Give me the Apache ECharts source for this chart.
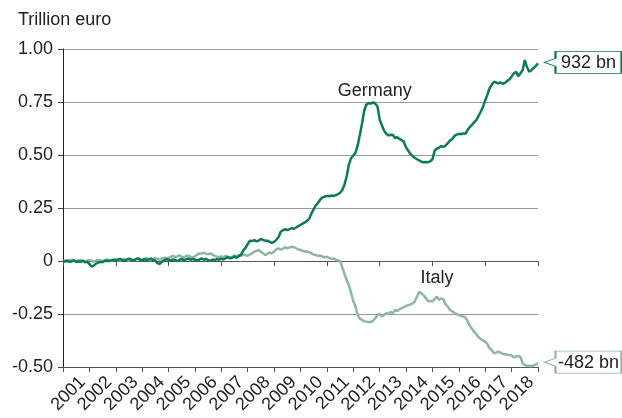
<!DOCTYPE html>
<html>
<head>
<meta charset="utf-8">
<script src="https://cdn.jsdelivr.net/npm/echarts@6/dist/echarts.min.js"></script>
<style>html,body{margin:0;padding:0;background:#fff}#c{width:622px;height:418px}</style>
</head>
<body>
<div id="c"></div>
<script>
// Tick labels / categories
const years = ['2001','2002','2003','2004','2005','2006','2007','2008','2009','2010','2011','2012','2013','2014','2015','2016','2017','2018'];
const startYear = 2001;   // monthly values from Jan 2001 to Jan 2019
const yTicks = [-0.5, -0.25, 0, 0.25, 0.5, 0.75, 1];

// TARGET2 balances, trillion euro (monthly)
const germany = [
  0.000,-0.003,0.002,-0.004,-0.002,0.003,-0.005,-0.002,-0.004,0.001,-0.006,-0.003,
  -0.015,-0.026,-0.022,-0.012,-0.008,-0.004,-0.006,0.000,0.003,-0.001,0.004,0.006,
  0.002,0.007,0.010,0.004,0.001,0.006,0.011,0.006,0.002,0.008,0.012,0.006,
  0.003,0.009,0.004,0.008,0.012,0.005,0.001,-0.010,-0.014,-0.004,0.004,0.008,
  0.006,0.002,0.008,0.004,0.000,0.006,0.010,0.004,0.008,0.012,0.006,0.010,
  0.006,0.002,0.007,0.012,0.006,0.010,0.004,0.001,0.007,0.004,0.009,0.006,
  0.011,0.007,0.013,0.018,0.012,0.016,0.021,0.015,0.024,0.030,0.050,0.062,
  0.080,0.096,0.094,0.098,0.093,0.096,0.104,0.100,0.095,0.096,0.090,0.086,
  0.090,0.100,0.112,0.138,0.145,0.150,0.146,0.150,0.155,0.152,0.158,0.165,
  0.170,0.176,0.182,0.190,0.200,0.225,0.245,0.262,0.275,0.290,0.300,0.304,
  0.307,0.305,0.309,0.307,0.310,0.315,0.322,0.335,0.360,0.400,0.455,0.485,
  0.498,0.510,0.545,0.595,0.650,0.710,0.738,0.745,0.742,0.748,0.742,0.730,
  0.668,0.640,0.615,0.600,0.592,0.596,0.594,0.580,0.584,0.576,0.570,0.562,
  0.535,0.520,0.505,0.496,0.486,0.480,0.474,0.468,0.466,0.467,0.466,0.470,
  0.480,0.520,0.530,0.534,0.542,0.538,0.545,0.556,0.568,0.575,0.590,0.596,
  0.600,0.598,0.602,0.600,0.618,0.632,0.642,0.655,0.665,0.685,0.705,0.728,
  0.758,0.785,0.815,0.832,0.846,0.842,0.838,0.842,0.836,0.840,0.850,0.856,
  0.870,0.885,0.893,0.872,0.885,0.900,0.948,0.915,0.893,0.900,0.910,0.920,
  0.932
];
const italy = [
  0.000,0.003,-0.002,0.004,0.006,0.002,-0.001,0.003,0.005,0.001,-0.002,0.002,
  0.004,0.001,-0.003,0.002,0.005,0.003,0.000,0.004,0.007,0.003,0.001,0.005,
  0.008,0.004,0.002,0.006,0.009,0.005,0.002,0.007,0.004,0.008,0.011,0.007,
  0.005,0.010,0.013,0.008,0.004,0.009,0.014,0.010,0.006,0.012,0.016,0.012,
  0.015,0.020,0.024,0.018,0.022,0.027,0.021,0.017,0.023,0.026,0.020,0.015,
  0.022,0.030,0.036,0.034,0.040,0.035,0.032,0.036,0.030,0.024,0.020,0.018,
  0.022,0.018,0.024,0.020,0.016,0.021,0.026,0.022,0.028,0.024,0.030,0.027,
  0.025,0.030,0.036,0.044,0.048,0.052,0.044,0.036,0.028,0.034,0.040,0.036,
  0.045,0.055,0.060,0.054,0.058,0.065,0.060,0.064,0.067,0.066,0.060,0.055,
  0.052,0.048,0.044,0.046,0.040,0.036,0.030,0.028,0.024,0.026,0.020,0.018,
  0.020,0.014,0.010,0.012,0.006,0.004,-0.002,-0.030,-0.060,-0.090,-0.115,-0.150,
  -0.190,-0.215,-0.255,-0.272,-0.278,-0.284,-0.286,-0.288,-0.288,-0.282,-0.270,-0.255,
  -0.250,-0.262,-0.255,-0.246,-0.250,-0.240,-0.246,-0.231,-0.236,-0.228,-0.222,-0.218,
  -0.212,-0.208,-0.205,-0.200,-0.190,-0.168,-0.145,-0.152,-0.162,-0.175,-0.190,-0.188,
  -0.190,-0.180,-0.168,-0.184,-0.176,-0.180,-0.205,-0.215,-0.231,-0.238,-0.244,-0.250,
  -0.255,-0.258,-0.262,-0.266,-0.285,-0.305,-0.320,-0.335,-0.345,-0.360,-0.368,-0.375,
  -0.380,-0.392,-0.412,-0.420,-0.436,-0.432,-0.428,-0.432,-0.438,-0.440,-0.442,-0.443,
  -0.445,-0.455,-0.450,-0.448,-0.452,-0.483,-0.490,-0.495,-0.494,-0.496,-0.492,-0.488,
  -0.482
];
// Series name annotations: [year, value]
const germanyLabelAt = [2012.81, 0.80];
const italyLabelAt = [2015.17, -0.08];

const GREEN = '#0b7a5b';
const SAGE = '#8db6a4';
const FONT = 'Liberation Sans, Arial, Helvetica, sans-serif';
const FS = 18;

const toPairs = arr => arr.map((v, i) => [startYear + i / 12, v]);
const last = arr => [startYear + (arr.length - 1) / 12, arr[arr.length - 1]];
const calloutPath = 'path://M0,11 L11,7 L11,0 L77,0 L77,22 L11,22 L11,15 Z';

function endCallout(arr, color) {
  return {
    coord: last(arr),
    symbol: calloutPath,
    symbolSize: [77, 22],
    symbolOffset: [45, -1],
    itemStyle: { color: '#fff', borderColor: color, borderWidth: 1.2 },
    label: {
      show: true, position: 'inside', offset: [5.5, 0.5],
      formatter: Math.round(arr[arr.length - 1] * 1000) + ' bn',
      fontSize: FS, color: '#222', fontFamily: FONT
    }
  };
}
function nameLabel(at, text) {
  return {
    coord: at, symbol: 'circle', symbolSize: 1,
    itemStyle: { color: 'rgba(0,0,0,0)' },
    label: { show: true, position: 'inside', formatter: text, fontSize: FS, color: '#222', fontFamily: FONT }
  };
}

const chart = echarts.init(document.getElementById('c'), null, { renderer: 'canvas' });
chart.setOption({
  animation: false,
  backgroundColor: '#fff',
  textStyle: { fontFamily: FONT },
  title: {
    text: 'Trillion euro', left: 13, top: 6,
    textStyle: { fontSize: FS, fontWeight: 'normal', color: '#222', fontFamily: FONT }
  },
  grid: { left: 63, right: 84, top: 49, bottom: 51, containLabel: false, outerBoundsMode: 'none' },
  xAxis: [
    {
      type: 'category', data: years, boundaryGap: true, position: 'bottom',
      axisLine: { onZero: false, lineStyle: { color: '#555', width: 1 } },
      axisTick: { show: true, length: 5, lineStyle: { color: '#555' } },
      axisLabel: { rotate: 45, margin: 6, verticalAlign: 'top', fontSize: FS, color: '#222', fontFamily: FONT, interval: 0 },
      splitLine: { show: false }
    },
    {
      type: 'category', data: years, boundaryGap: true, position: 'bottom',
      axisLine: { onZero: true, lineStyle: { color: '#555', width: 1 } },
      axisTick: { show: true, length: 5, lineStyle: { color: '#555' } },
      axisLabel: { show: false },
      splitLine: { show: false }
    },
    { type: 'value', min: startYear, max: startYear + years.length, show: false }
  ],
  yAxis: {
    type: 'value', min: yTicks[0], max: yTicks[yTicks.length - 1], interval: 0.25,
    axisLine: { show: true, lineStyle: { color: '#222', width: 1 } },
    axisTick: { show: true, length: 5, lineStyle: { color: '#444' } },
    axisLabel: {
      margin: 10, fontSize: FS, color: '#222', fontFamily: FONT,
      formatter: v => (Math.abs(v) < 1e-9 ? '0' : v.toFixed(2))
    },
    splitLine: { show: true, lineStyle: { color: '#999', width: 1 } }
  },
  series: [
    {
      name: 'Italy', type: 'line', xAxisIndex: 2, data: toPairs(italy),
      showSymbol: false, symbol: 'none', lineStyle: { color: SAGE, width: 2.5 },
      itemStyle: { color: SAGE }, z: 3,
      markPoint: { silent: true, data: [endCallout(italy, SAGE), nameLabel(italyLabelAt, 'Italy')] }
    },
    {
      name: 'Germany', type: 'line', xAxisIndex: 2, data: toPairs(germany),
      showSymbol: false, symbol: 'none', lineStyle: { color: GREEN, width: 2.5 },
      itemStyle: { color: GREEN }, z: 4,
      markPoint: { silent: true, data: [endCallout(germany, GREEN), nameLabel(germanyLabelAt, 'Germany')] }
    }
  ]
});
</script>
</body>
</html>
